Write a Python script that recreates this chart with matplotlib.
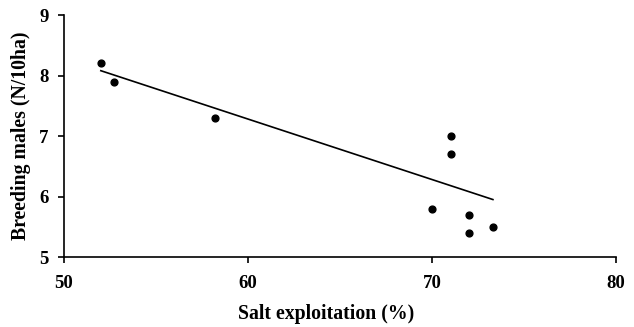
import matplotlib
matplotlib.use("Agg")
import matplotlib.pyplot as plt

# Data
salt = [52.0, 52.7, 58.2, 71.0, 71.0, 70.0, 72.0, 72.0, 73.3]
males = [8.2, 7.9, 7.3, 7.0, 6.7, 5.8, 5.7, 5.4, 5.5]
trend_x = [52.0, 73.3]
trend_y = [8.08, 5.95]

x_ticks = [50, 60, 70, 80]
y_ticks = [5, 6, 7, 8, 9]

plt.rcParams['font.family'] = ['Liberation Serif', 'DejaVu Serif']
plt.rcParams['font.weight'] = 'bold'

fig = plt.figure(figsize=(6.34, 3.27), dpi=100)
ax = fig.add_axes([0.101, 0.214, 0.871, 0.740])

ax.scatter(salt, males, s=24, color='black', zorder=3)
ax.plot(trend_x, trend_y, color='black', linewidth=1.2)

ax.set_xlim(50, 80)
ax.set_ylim(5, 9)
ax.set_xticks(x_ticks)
ax.set_yticks(y_ticks)
ax.spines['top'].set_visible(False)
ax.spines['right'].set_visible(False)
for s in ['left', 'bottom']:
    ax.spines[s].set_linewidth(1.2)
ax.tick_params(direction='out', length=4, width=1.2, labelsize=13.5)
ax.tick_params(axis='x', pad=9)
ax.tick_params(axis='y', pad=7)
for lab in ax.get_xticklabels() + ax.get_yticklabels():
    lab.set_fontweight('bold')

ax.set_xlabel("Salt exploitation (%)", fontsize=14.2, fontweight='bold')
ax.xaxis.set_label_coords(0.474, -0.195)
ax.set_ylabel("Breeding males (N/10ha)", fontsize=14.2, fontweight='bold', labelpad=6)

fig.savefig("out.png", dpi=100)
